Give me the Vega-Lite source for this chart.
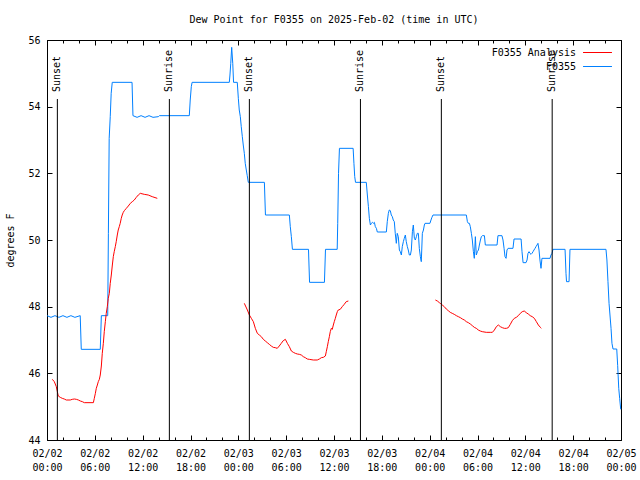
{
  "$schema": "https://vega.github.io/schema/vega-lite/v6.json",
  "width": 574,
  "height": 400,
  "autosize": "none",
  "padding": {"left": 47, "top": 40, "right": 19, "bottom": 40},
  "background": "white",
  "title": {"text": "Dew Point for F0355 on 2025-Feb-02 (time in UTC)", "font": "DejaVu Sans Mono", "fontSize": 10, "fontWeight": "normal", "anchor": "middle", "offset": 10, "color": "black"},
  "config": {
    "view": {"stroke": "black", "strokeWidth": 1},
    "font": "DejaVu Sans Mono",
    "axis": {"labelFont": "DejaVu Sans Mono", "labelFontSize": 10, "labelColor": "black", "tickColor": "black", "tickWidth": 1, "domain": false, "grid": false, "titleFont": "DejaVu Sans Mono", "titleFontSize": 10, "titleFontWeight": "normal", "titleColor": "black"}
  },
  "datasets": {
    "station": [
      {"t":"2025-02-02T00:00Z","v":47.73},{"t":"2025-02-02T00:30Z","v":47.68},{"t":"2025-02-02T01:00Z","v":47.73},{"t":"2025-02-02T01:30Z","v":47.68},
      {"t":"2025-02-02T02:00Z","v":47.73},{"t":"2025-02-02T02:30Z","v":47.68},{"t":"2025-02-02T03:00Z","v":47.73},{"t":"2025-02-02T03:30Z","v":47.68},
      {"t":"2025-02-02T04:10Z","v":47.73},{"t":"2025-02-02T04:18Z","v":46.72},{"t":"2025-02-02T06:41Z","v":46.72},{"t":"2025-02-02T06:49Z","v":47.73},
      {"t":"2025-02-02T07:37Z","v":47.73},{"t":"2025-02-02T07:42Z","v":50.2},{"t":"2025-02-02T07:48Z","v":53.05},{"t":"2025-02-02T07:56Z","v":53.7},
      {"t":"2025-02-02T08:03Z","v":54.4},{"t":"2025-02-02T08:11Z","v":54.73},{"t":"2025-02-02T10:40Z","v":54.73},{"t":"2025-02-02T10:47Z","v":53.73},
      {"t":"2025-02-02T11:18Z","v":53.68},{"t":"2025-02-02T11:48Z","v":53.73},{"t":"2025-02-02T12:18Z","v":53.68},{"t":"2025-02-02T12:48Z","v":53.73},
      {"t":"2025-02-02T13:18Z","v":53.68},{"t":"2025-02-02T13:58Z","v":53.7},{"t":"2025-02-02T14:06Z","v":53.73},{"t":"2025-02-02T17:51Z","v":53.73},
      {"t":"2025-02-02T17:58Z","v":54.2},{"t":"2025-02-02T18:06Z","v":54.6},{"t":"2025-02-02T18:12Z","v":54.73},{"t":"2025-02-02T22:52Z","v":54.73},
      {"t":"2025-02-02T22:57Z","v":54.95},{"t":"2025-02-02T23:03Z","v":55.3},{"t":"2025-02-02T23:10Z","v":55.78},{"t":"2025-02-02T23:18Z","v":55.3},
      {"t":"2025-02-02T23:24Z","v":54.73},{"t":"2025-02-02T23:52Z","v":54.73},
      {"t":"2025-02-03T00:00Z","v":54.25},{"t":"2025-02-03T00:07Z","v":53.9},{"t":"2025-02-03T00:15Z","v":53.7},{"t":"2025-02-03T00:22Z","v":53.4},
      {"t":"2025-02-03T00:30Z","v":53.1},{"t":"2025-02-03T00:37Z","v":52.85},{"t":"2025-02-03T00:45Z","v":52.6},{"t":"2025-02-03T00:52Z","v":52.3},
      {"t":"2025-02-03T01:00Z","v":52.1},{"t":"2025-02-03T01:07Z","v":51.93},{"t":"2025-02-03T01:15Z","v":51.73},{"t":"2025-02-03T03:16Z","v":51.73},
      {"t":"2025-02-03T03:24Z","v":50.75},{"t":"2025-02-03T06:24Z","v":50.75},{"t":"2025-02-03T06:31Z","v":50.4},{"t":"2025-02-03T06:39Z","v":50.1},
      {"t":"2025-02-03T06:47Z","v":49.72},{"t":"2025-02-03T08:48Z","v":49.72},{"t":"2025-02-03T08:56Z","v":48.73},{"t":"2025-02-03T10:48Z","v":48.73},
      {"t":"2025-02-03T10:56Z","v":49.72},{"t":"2025-02-03T12:24Z","v":49.72},{"t":"2025-02-03T12:28Z","v":50.5},{"t":"2025-02-03T12:34Z","v":52.0},
      {"t":"2025-02-03T12:41Z","v":52.75},{"t":"2025-02-03T14:24Z","v":52.75},{"t":"2025-02-03T14:30Z","v":52.3},{"t":"2025-02-03T14:36Z","v":51.9},
      {"t":"2025-02-03T14:42Z","v":51.73},{"t":"2025-02-03T16:03Z","v":51.73},{"t":"2025-02-03T16:11Z","v":51.35},{"t":"2025-02-03T16:19Z","v":51.0},
      {"t":"2025-02-03T16:26Z","v":50.65},{"t":"2025-02-03T16:34Z","v":50.45},{"t":"2025-02-03T16:41Z","v":50.5},{"t":"2025-02-03T16:49Z","v":50.53},
      {"t":"2025-02-03T16:56Z","v":50.5},{"t":"2025-02-03T17:04Z","v":50.53},{"t":"2025-02-03T17:11Z","v":50.4},{"t":"2025-02-03T17:19Z","v":50.35},
      {"t":"2025-02-03T17:26Z","v":50.24},{"t":"2025-02-03T18:34Z","v":50.24},{"t":"2025-02-03T18:41Z","v":50.55},{"t":"2025-02-03T18:49Z","v":50.8},
      {"t":"2025-02-03T18:56Z","v":50.9},{"t":"2025-02-03T19:04Z","v":50.88},{"t":"2025-02-03T19:11Z","v":50.75},{"t":"2025-02-03T19:19Z","v":50.7},
      {"t":"2025-02-03T19:26Z","v":50.6},{"t":"2025-02-03T19:34Z","v":50.55},{"t":"2025-02-03T19:41Z","v":50.2},{"t":"2025-02-03T19:49Z","v":49.9},
      {"t":"2025-02-03T19:56Z","v":50.2},{"t":"2025-02-03T20:04Z","v":50.1},{"t":"2025-02-03T20:12Z","v":49.7},{"t":"2025-02-03T20:19Z","v":49.65},
      {"t":"2025-02-03T20:27Z","v":49.55},{"t":"2025-02-03T20:34Z","v":49.8},{"t":"2025-02-03T20:42Z","v":49.95},{"t":"2025-02-03T20:49Z","v":50.05},
      {"t":"2025-02-03T20:57Z","v":50.15},{"t":"2025-02-03T21:04Z","v":49.95},{"t":"2025-02-03T21:12Z","v":49.8},{"t":"2025-02-03T21:19Z","v":49.7},
      {"t":"2025-02-03T21:27Z","v":49.55},{"t":"2025-02-03T21:35Z","v":49.55},{"t":"2025-02-03T21:42Z","v":49.7},{"t":"2025-02-03T21:50Z","v":50.25},
      {"t":"2025-02-03T21:57Z","v":50.45},{"t":"2025-02-03T22:05Z","v":50.05},{"t":"2025-02-03T22:12Z","v":50.0},{"t":"2025-02-03T22:20Z","v":50.1},
      {"t":"2025-02-03T22:27Z","v":50.2},{"t":"2025-02-03T22:35Z","v":50.2},{"t":"2025-02-03T22:42Z","v":49.75},{"t":"2025-02-03T22:50Z","v":49.5},
      {"t":"2025-02-03T22:57Z","v":49.35},{"t":"2025-02-03T23:05Z","v":50.2},{"t":"2025-02-03T23:13Z","v":50.3},{"t":"2025-02-03T23:20Z","v":50.45},
      {"t":"2025-02-03T23:25Z","v":50.5},
      {"t":"2025-02-04T00:02Z","v":50.5},{"t":"2025-02-04T00:10Z","v":50.6},{"t":"2025-02-04T00:17Z","v":50.68},{"t":"2025-02-04T00:25Z","v":50.75},
      {"t":"2025-02-04T04:36Z","v":50.75},{"t":"2025-02-04T04:44Z","v":50.55},{"t":"2025-02-04T04:51Z","v":50.5},{"t":"2025-02-04T04:59Z","v":50.5},
      {"t":"2025-02-04T05:06Z","v":50.4},{"t":"2025-02-04T05:14Z","v":50.2},{"t":"2025-02-04T05:21Z","v":50.0},{"t":"2025-02-04T05:29Z","v":49.65},
      {"t":"2025-02-04T05:36Z","v":49.45},{"t":"2025-02-04T05:44Z","v":50.1},{"t":"2025-02-04T05:51Z","v":49.55},{"t":"2025-02-04T05:59Z","v":49.65},
      {"t":"2025-02-04T06:07Z","v":49.7},{"t":"2025-02-04T06:14Z","v":49.85},{"t":"2025-02-04T06:22Z","v":50.0},{"t":"2025-02-04T06:29Z","v":50.1},
      {"t":"2025-02-04T06:37Z","v":50.13},{"t":"2025-02-04T06:52Z","v":50.13},{"t":"2025-02-04T06:59Z","v":49.85},{"t":"2025-02-04T08:27Z","v":49.85},
      {"t":"2025-02-04T08:34Z","v":50.13},{"t":"2025-02-04T09:04Z","v":50.13},{"t":"2025-02-04T09:12Z","v":50.0},{"t":"2025-02-04T09:20Z","v":49.75},
      {"t":"2025-02-04T09:27Z","v":49.5},{"t":"2025-02-04T09:35Z","v":49.45},{"t":"2025-02-04T09:42Z","v":49.7},{"t":"2025-02-04T09:50Z","v":49.75},
      {"t":"2025-02-04T10:27Z","v":49.75},{"t":"2025-02-04T10:35Z","v":50.03},{"t":"2025-02-04T11:28Z","v":50.03},{"t":"2025-02-04T11:35Z","v":49.65},
      {"t":"2025-02-04T11:43Z","v":49.32},{"t":"2025-02-04T12:05Z","v":49.32},{"t":"2025-02-04T12:13Z","v":49.4},{"t":"2025-02-04T12:20Z","v":49.6},
      {"t":"2025-02-04T12:28Z","v":49.65},{"t":"2025-02-04T12:35Z","v":49.6},{"t":"2025-02-04T12:43Z","v":49.57},{"t":"2025-02-04T12:50Z","v":49.6},
      {"t":"2025-02-04T12:58Z","v":49.65},{"t":"2025-02-04T13:05Z","v":49.7},{"t":"2025-02-04T13:13Z","v":49.75},{"t":"2025-02-04T13:20Z","v":49.8},
      {"t":"2025-02-04T13:28Z","v":49.85},{"t":"2025-02-04T13:35Z","v":49.9},{"t":"2025-02-04T13:43Z","v":49.7},{"t":"2025-02-04T13:50Z","v":49.4},
      {"t":"2025-02-04T13:58Z","v":49.15},{"t":"2025-02-04T14:05Z","v":49.45},{"t":"2025-02-04T15:06Z","v":49.45},{"t":"2025-02-04T15:13Z","v":49.55},
      {"t":"2025-02-04T15:21Z","v":49.6},{"t":"2025-02-04T15:28Z","v":49.72},{"t":"2025-02-04T16:59Z","v":49.72},{"t":"2025-02-04T17:06Z","v":49.0},
      {"t":"2025-02-04T17:10Z","v":48.75},{"t":"2025-02-04T17:29Z","v":48.75},{"t":"2025-02-04T17:36Z","v":49.72},{"t":"2025-02-04T22:07Z","v":49.72},
      {"t":"2025-02-04T22:14Z","v":49.4},{"t":"2025-02-04T22:22Z","v":48.75},{"t":"2025-02-04T22:30Z","v":48.1},{"t":"2025-02-04T22:37Z","v":47.75},
      {"t":"2025-02-04T22:45Z","v":47.35},{"t":"2025-02-04T22:52Z","v":46.9},{"t":"2025-02-04T23:00Z","v":46.73},{"t":"2025-02-04T23:28Z","v":46.73},
      {"t":"2025-02-04T23:35Z","v":46.23},{"t":"2025-02-04T23:43Z","v":45.55},{"t":"2025-02-04T23:50Z","v":45.25},{"t":"2025-02-04T23:58Z","v":44.92}
    ],
    "analysis": [
      {"t":"2025-02-02T00:40Z","v":45.82,"g":"a"},{"t":"2025-02-02T00:55Z","v":45.75,"g":"a"},{"t":"2025-02-02T01:10Z","v":45.6,"g":"a"},{"t":"2025-02-02T01:18Z","v":45.45,"g":"a"},
      {"t":"2025-02-02T01:25Z","v":45.32,"g":"a"},{"t":"2025-02-02T01:40Z","v":45.28,"g":"a"},{"t":"2025-02-02T01:55Z","v":45.25,"g":"a"},{"t":"2025-02-02T02:10Z","v":45.23,"g":"a"},
      {"t":"2025-02-02T02:25Z","v":45.2,"g":"a"},{"t":"2025-02-02T02:55Z","v":45.2,"g":"a"},{"t":"2025-02-02T03:10Z","v":45.22,"g":"a"},{"t":"2025-02-02T03:26Z","v":45.23,"g":"a"},
      {"t":"2025-02-02T03:41Z","v":45.22,"g":"a"},{"t":"2025-02-02T03:56Z","v":45.2,"g":"a"},{"t":"2025-02-02T04:11Z","v":45.17,"g":"a"},{"t":"2025-02-02T04:26Z","v":45.15,"g":"a"},
      {"t":"2025-02-02T04:41Z","v":45.12,"g":"a"},{"t":"2025-02-02T05:49Z","v":45.12,"g":"a"},{"t":"2025-02-02T05:56Z","v":45.25,"g":"a"},{"t":"2025-02-02T06:04Z","v":45.4,"g":"a"},
      {"t":"2025-02-02T06:11Z","v":45.55,"g":"a"},{"t":"2025-02-02T06:19Z","v":45.65,"g":"a"},{"t":"2025-02-02T06:26Z","v":45.75,"g":"a"},{"t":"2025-02-02T06:34Z","v":45.82,"g":"a"},
      {"t":"2025-02-02T06:41Z","v":45.95,"g":"a"},{"t":"2025-02-02T06:49Z","v":46.22,"g":"a"},{"t":"2025-02-02T06:56Z","v":46.6,"g":"a"},{"t":"2025-02-02T07:04Z","v":46.9,"g":"a"},
      {"t":"2025-02-02T07:11Z","v":47.25,"g":"a"},{"t":"2025-02-02T07:19Z","v":47.55,"g":"a"},{"t":"2025-02-02T07:26Z","v":47.8,"g":"a"},{"t":"2025-02-02T07:34Z","v":48.0,"g":"a"},
      {"t":"2025-02-02T07:41Z","v":48.25,"g":"a"},{"t":"2025-02-02T07:49Z","v":48.4,"g":"a"},{"t":"2025-02-02T07:56Z","v":48.7,"g":"a"},{"t":"2025-02-02T08:04Z","v":48.95,"g":"a"},
      {"t":"2025-02-02T08:11Z","v":49.22,"g":"a"},{"t":"2025-02-02T08:19Z","v":49.5,"g":"a"},{"t":"2025-02-02T08:26Z","v":49.65,"g":"a"},{"t":"2025-02-02T08:34Z","v":49.8,"g":"a"},
      {"t":"2025-02-02T08:41Z","v":49.95,"g":"a"},{"t":"2025-02-02T08:49Z","v":50.15,"g":"a"},{"t":"2025-02-02T08:56Z","v":50.3,"g":"a"},{"t":"2025-02-02T09:04Z","v":50.4,"g":"a"},
      {"t":"2025-02-02T09:11Z","v":50.5,"g":"a"},{"t":"2025-02-02T09:19Z","v":50.65,"g":"a"},{"t":"2025-02-02T09:26Z","v":50.75,"g":"a"},{"t":"2025-02-02T09:34Z","v":50.83,"g":"a"},
      {"t":"2025-02-02T09:42Z","v":50.88,"g":"a"},{"t":"2025-02-02T09:57Z","v":50.95,"g":"a"},{"t":"2025-02-02T10:12Z","v":51.02,"g":"a"},{"t":"2025-02-02T10:27Z","v":51.1,"g":"a"},
      {"t":"2025-02-02T10:42Z","v":51.15,"g":"a"},{"t":"2025-02-02T10:57Z","v":51.2,"g":"a"},{"t":"2025-02-02T11:12Z","v":51.28,"g":"a"},{"t":"2025-02-02T11:27Z","v":51.35,"g":"a"},
      {"t":"2025-02-02T11:42Z","v":51.4,"g":"a"},{"t":"2025-02-02T12:12Z","v":51.37,"g":"a"},{"t":"2025-02-02T12:42Z","v":51.35,"g":"a"},{"t":"2025-02-02T13:12Z","v":51.3,"g":"a"},
      {"t":"2025-02-02T13:50Z","v":51.25,"g":"a"},
      {"t":"2025-02-03T00:45Z","v":48.1,"g":"b"},{"t":"2025-02-03T01:08Z","v":47.9,"g":"b"},{"t":"2025-02-03T01:23Z","v":47.75,"g":"b"},{"t":"2025-02-03T01:38Z","v":47.65,"g":"b"},
      {"t":"2025-02-03T01:53Z","v":47.55,"g":"b"},{"t":"2025-02-03T02:08Z","v":47.35,"g":"b"},{"t":"2025-02-03T02:23Z","v":47.2,"g":"b"},{"t":"2025-02-03T02:38Z","v":47.15,"g":"b"},
      {"t":"2025-02-03T02:53Z","v":47.1,"g":"b"},{"t":"2025-02-03T03:08Z","v":47.02,"g":"b"},{"t":"2025-02-03T03:23Z","v":46.97,"g":"b"},{"t":"2025-02-03T03:38Z","v":46.92,"g":"b"},
      {"t":"2025-02-03T03:53Z","v":46.87,"g":"b"},{"t":"2025-02-03T04:08Z","v":46.82,"g":"b"},{"t":"2025-02-03T04:23Z","v":46.78,"g":"b"},{"t":"2025-02-03T04:38Z","v":46.77,"g":"b"},
      {"t":"2025-02-03T04:53Z","v":46.75,"g":"b"},{"t":"2025-02-03T05:08Z","v":46.82,"g":"b"},{"t":"2025-02-03T05:23Z","v":46.9,"g":"b"},{"t":"2025-02-03T05:38Z","v":46.98,"g":"b"},
      {"t":"2025-02-03T05:54Z","v":47.02,"g":"b"},{"t":"2025-02-03T06:09Z","v":46.9,"g":"b"},{"t":"2025-02-03T06:24Z","v":46.8,"g":"b"},{"t":"2025-02-03T06:39Z","v":46.67,"g":"b"},
      {"t":"2025-02-03T06:54Z","v":46.63,"g":"b"},{"t":"2025-02-03T07:09Z","v":46.6,"g":"b"},{"t":"2025-02-03T07:24Z","v":46.58,"g":"b"},{"t":"2025-02-03T07:39Z","v":46.57,"g":"b"},
      {"t":"2025-02-03T07:54Z","v":46.55,"g":"b"},{"t":"2025-02-03T08:09Z","v":46.5,"g":"b"},{"t":"2025-02-03T08:24Z","v":46.47,"g":"b"},{"t":"2025-02-03T08:39Z","v":46.43,"g":"b"},
      {"t":"2025-02-03T08:54Z","v":46.42,"g":"b"},{"t":"2025-02-03T09:24Z","v":46.4,"g":"b"},{"t":"2025-02-03T09:54Z","v":46.4,"g":"b"},{"t":"2025-02-03T10:10Z","v":46.43,"g":"b"},
      {"t":"2025-02-03T10:25Z","v":46.47,"g":"b"},{"t":"2025-02-03T10:40Z","v":46.48,"g":"b"},{"t":"2025-02-03T10:55Z","v":46.52,"g":"b"},{"t":"2025-02-03T11:02Z","v":46.65,"g":"b"},
      {"t":"2025-02-03T11:10Z","v":46.8,"g":"b"},{"t":"2025-02-03T11:17Z","v":46.95,"g":"b"},{"t":"2025-02-03T11:25Z","v":47.1,"g":"b"},{"t":"2025-02-03T11:32Z","v":47.25,"g":"b"},
      {"t":"2025-02-03T11:40Z","v":47.35,"g":"b"},{"t":"2025-02-03T11:47Z","v":47.32,"g":"b"},{"t":"2025-02-03T11:55Z","v":47.45,"g":"b"},{"t":"2025-02-03T12:02Z","v":47.55,"g":"b"},
      {"t":"2025-02-03T12:10Z","v":47.65,"g":"b"},{"t":"2025-02-03T12:17Z","v":47.75,"g":"b"},{"t":"2025-02-03T12:25Z","v":47.85,"g":"b"},{"t":"2025-02-03T12:32Z","v":47.9,"g":"b"},
      {"t":"2025-02-03T12:47Z","v":47.92,"g":"b"},{"t":"2025-02-03T13:02Z","v":48.0,"g":"b"},{"t":"2025-02-03T13:17Z","v":48.07,"g":"b"},{"t":"2025-02-03T13:32Z","v":48.15,"g":"b"},
      {"t":"2025-02-03T13:48Z","v":48.17,"g":"b"},
      {"t":"2025-02-04T00:43Z","v":48.2,"g":"c"},{"t":"2025-02-04T00:58Z","v":48.17,"g":"c"},{"t":"2025-02-04T01:13Z","v":48.12,"g":"c"},{"t":"2025-02-04T01:20Z","v":48.1,"g":"c"},
      {"t":"2025-02-04T01:35Z","v":48.05,"g":"c"},{"t":"2025-02-04T01:50Z","v":48.0,"g":"c"},{"t":"2025-02-04T02:05Z","v":47.93,"g":"c"},{"t":"2025-02-04T02:20Z","v":47.88,"g":"c"},
      {"t":"2025-02-04T02:35Z","v":47.83,"g":"c"},{"t":"2025-02-04T02:50Z","v":47.8,"g":"c"},{"t":"2025-02-04T03:05Z","v":47.77,"g":"c"},{"t":"2025-02-04T03:21Z","v":47.73,"g":"c"},
      {"t":"2025-02-04T03:36Z","v":47.7,"g":"c"},{"t":"2025-02-04T03:51Z","v":47.67,"g":"c"},{"t":"2025-02-04T04:06Z","v":47.63,"g":"c"},{"t":"2025-02-04T04:21Z","v":47.6,"g":"c"},
      {"t":"2025-02-04T04:36Z","v":47.55,"g":"c"},{"t":"2025-02-04T04:51Z","v":47.52,"g":"c"},{"t":"2025-02-04T05:06Z","v":47.48,"g":"c"},{"t":"2025-02-04T05:21Z","v":47.43,"g":"c"},
      {"t":"2025-02-04T05:36Z","v":47.38,"g":"c"},{"t":"2025-02-04T05:51Z","v":47.35,"g":"c"},{"t":"2025-02-04T06:06Z","v":47.3,"g":"c"},{"t":"2025-02-04T06:21Z","v":47.27,"g":"c"},
      {"t":"2025-02-04T06:36Z","v":47.25,"g":"c"},{"t":"2025-02-04T07:06Z","v":47.23,"g":"c"},{"t":"2025-02-04T07:36Z","v":47.23,"g":"c"},{"t":"2025-02-04T07:52Z","v":47.23,"g":"c"},
      {"t":"2025-02-04T08:07Z","v":47.3,"g":"c"},{"t":"2025-02-04T08:22Z","v":47.4,"g":"c"},{"t":"2025-02-04T08:37Z","v":47.45,"g":"c"},{"t":"2025-02-04T08:52Z","v":47.4,"g":"c"},
      {"t":"2025-02-04T09:07Z","v":47.37,"g":"c"},{"t":"2025-02-04T09:22Z","v":47.35,"g":"c"},{"t":"2025-02-04T09:37Z","v":47.35,"g":"c"},{"t":"2025-02-04T09:52Z","v":47.37,"g":"c"},
      {"t":"2025-02-04T10:07Z","v":47.47,"g":"c"},{"t":"2025-02-04T10:22Z","v":47.58,"g":"c"},{"t":"2025-02-04T10:37Z","v":47.65,"g":"c"},{"t":"2025-02-04T10:52Z","v":47.68,"g":"c"},
      {"t":"2025-02-04T11:07Z","v":47.73,"g":"c"},{"t":"2025-02-04T11:22Z","v":47.8,"g":"c"},{"t":"2025-02-04T11:37Z","v":47.85,"g":"c"},{"t":"2025-02-04T11:52Z","v":47.87,"g":"c"},
      {"t":"2025-02-04T12:07Z","v":47.82,"g":"c"},{"t":"2025-02-04T12:22Z","v":47.78,"g":"c"},{"t":"2025-02-04T12:37Z","v":47.73,"g":"c"},{"t":"2025-02-04T12:52Z","v":47.7,"g":"c"},
      {"t":"2025-02-04T13:08Z","v":47.65,"g":"c"},{"t":"2025-02-04T13:23Z","v":47.55,"g":"c"},{"t":"2025-02-04T13:38Z","v":47.45,"g":"c"},{"t":"2025-02-04T13:53Z","v":47.38,"g":"c"},
      {"t":"2025-02-04T14:00Z","v":47.35,"g":"c"}
    ],
    "events": [
      {"t":"2025-02-02T01:18Z","label":"Sunset"},
      {"t":"2025-02-02T15:21Z","label":"Sunrise"},
      {"t":"2025-02-03T01:23Z","label":"Sunset"},
      {"t":"2025-02-03T15:19Z","label":"Sunrise"},
      {"t":"2025-02-04T01:28Z","label":"Sunset"},
      {"t":"2025-02-04T15:22Z","label":"Sunrise"}
    ]
  },
  "layer": [
    {
      "data": {"name": "station"},
      "mark": {"type": "line", "strokeWidth": 1},
      "encoding": {
        "x": {"field": "t", "type": "temporal",
          "scale": {"type": "utc", "domain": [1738454400000, 1738713600000], "nice": false},
          "axis": {"orient": "bottom", "title": null,
            "values": [1738454400000, 1738476000000, 1738497600000, 1738519200000, 1738540800000, 1738562400000, 1738584000000, 1738605600000, 1738627200000, 1738648800000, 1738670400000, 1738692000000, 1738713600000],
            "labelExpr": "[utcFormat(datum.value, '%m/%d'), utcFormat(datum.value, '%H:%M')]",
            "tickSize": -5, "labelPadding": 13, "labelOverlap": false, "labelFlush": false, "labelBound": false, "labelLineHeight": 14}},
        "y": {"field": "v", "type": "quantitative",
          "scale": {"domain": [44, 56], "nice": false, "zero": false},
          "axis": {"orient": "left", "values": [44, 46, 48, 50, 52, 54, 56], "tickSize": -5, "title": "degrees F", "labelPadding": 12, "titlePadding": 12}},
        "color": {"datum": "F0355",
          "scale": {"domain": ["F0355 Analysis", "F0355"], "range": ["#ff0000", "#0080ff"]},
          "legend": {"orient": "top-right", "offset": 7, "title": null, "symbolType": "M-3,0H3", "symbolSize": 93, "symbolStrokeWidth": 1, "rowPadding": 3, "padding": 0, "labelAlign": "right", "labelOffset": -27, "labelFont": "DejaVu Sans Mono", "labelFontSize": 10, "labelColor": "black"}}
      }
    },
    {
      "data": {"name": "analysis"},
      "mark": {"type": "line", "strokeWidth": 1},
      "encoding": {
        "x": {"field": "t", "type": "temporal",
          "axis": {"orient": "bottom", "title": null, "labels": false, "tickSize": -3,
            "values": [1738454400000, 1738461600000, 1738468800000, 1738476000000, 1738483200000, 1738490400000, 1738497600000, 1738504800000, 1738512000000, 1738519200000, 1738526400000, 1738533600000, 1738540800000, 1738548000000, 1738555200000, 1738562400000, 1738569600000, 1738576800000, 1738584000000, 1738591200000, 1738598400000, 1738605600000, 1738612800000, 1738620000000, 1738627200000, 1738634400000, 1738641600000, 1738648800000, 1738656000000, 1738663200000, 1738670400000, 1738677600000, 1738684800000, 1738692000000, 1738699200000, 1738706400000, 1738713600000]}},
        "y": {"field": "v", "type": "quantitative", "axis": null},
        "color": {"datum": "F0355 Analysis"},
        "detail": {"field": "g"}
      }
    },
    {
      "data": {"name": "events"},
      "mark": {"type": "rule", "color": "black", "strokeWidth": 1},
      "encoding": {
        "x": {"field": "t", "type": "temporal",
          "axis": {"orient": "top", "title": null, "labels": false, "tickSize": -5,
            "values": [1738454400000, 1738476000000, 1738497600000, 1738519200000, 1738540800000, 1738562400000, 1738584000000, 1738605600000, 1738627200000, 1738648800000, 1738670400000, 1738692000000, 1738713600000]}},
        "y": {"datum": 54.23,
          "axis": {"orient": "right", "title": null, "labels": false, "tickSize": -5, "values": [44, 46, 48, 50, 52, 54, 56]}},
        "y2": {"datum": 44}
      }
    },
    {
      "data": {"name": "events"},
      "mark": {"type": "text", "angle": 270, "align": "left", "baseline": "middle", "font": "DejaVu Sans Mono", "fontSize": 10, "color": "black"},
      "encoding": {
        "x": {"field": "t", "type": "temporal",
          "axis": {"orient": "top", "title": null, "labels": false, "tickSize": -3,
            "values": [1738454400000, 1738461600000, 1738468800000, 1738476000000, 1738483200000, 1738490400000, 1738497600000, 1738504800000, 1738512000000, 1738519200000, 1738526400000, 1738533600000, 1738540800000, 1738548000000, 1738555200000, 1738562400000, 1738569600000, 1738576800000, 1738584000000, 1738591200000, 1738598400000, 1738605600000, 1738612800000, 1738620000000, 1738627200000, 1738634400000, 1738641600000, 1738648800000, 1738656000000, 1738663200000, 1738670400000, 1738677600000, 1738684800000, 1738692000000, 1738699200000, 1738706400000, 1738713600000]}},
        "y": {"datum": 54.44, "axis": null},
        "text": {"field": "label"}
      }
    }
  ],
  "resolve": {"axis": {"x": "independent", "y": "independent"}}
}
